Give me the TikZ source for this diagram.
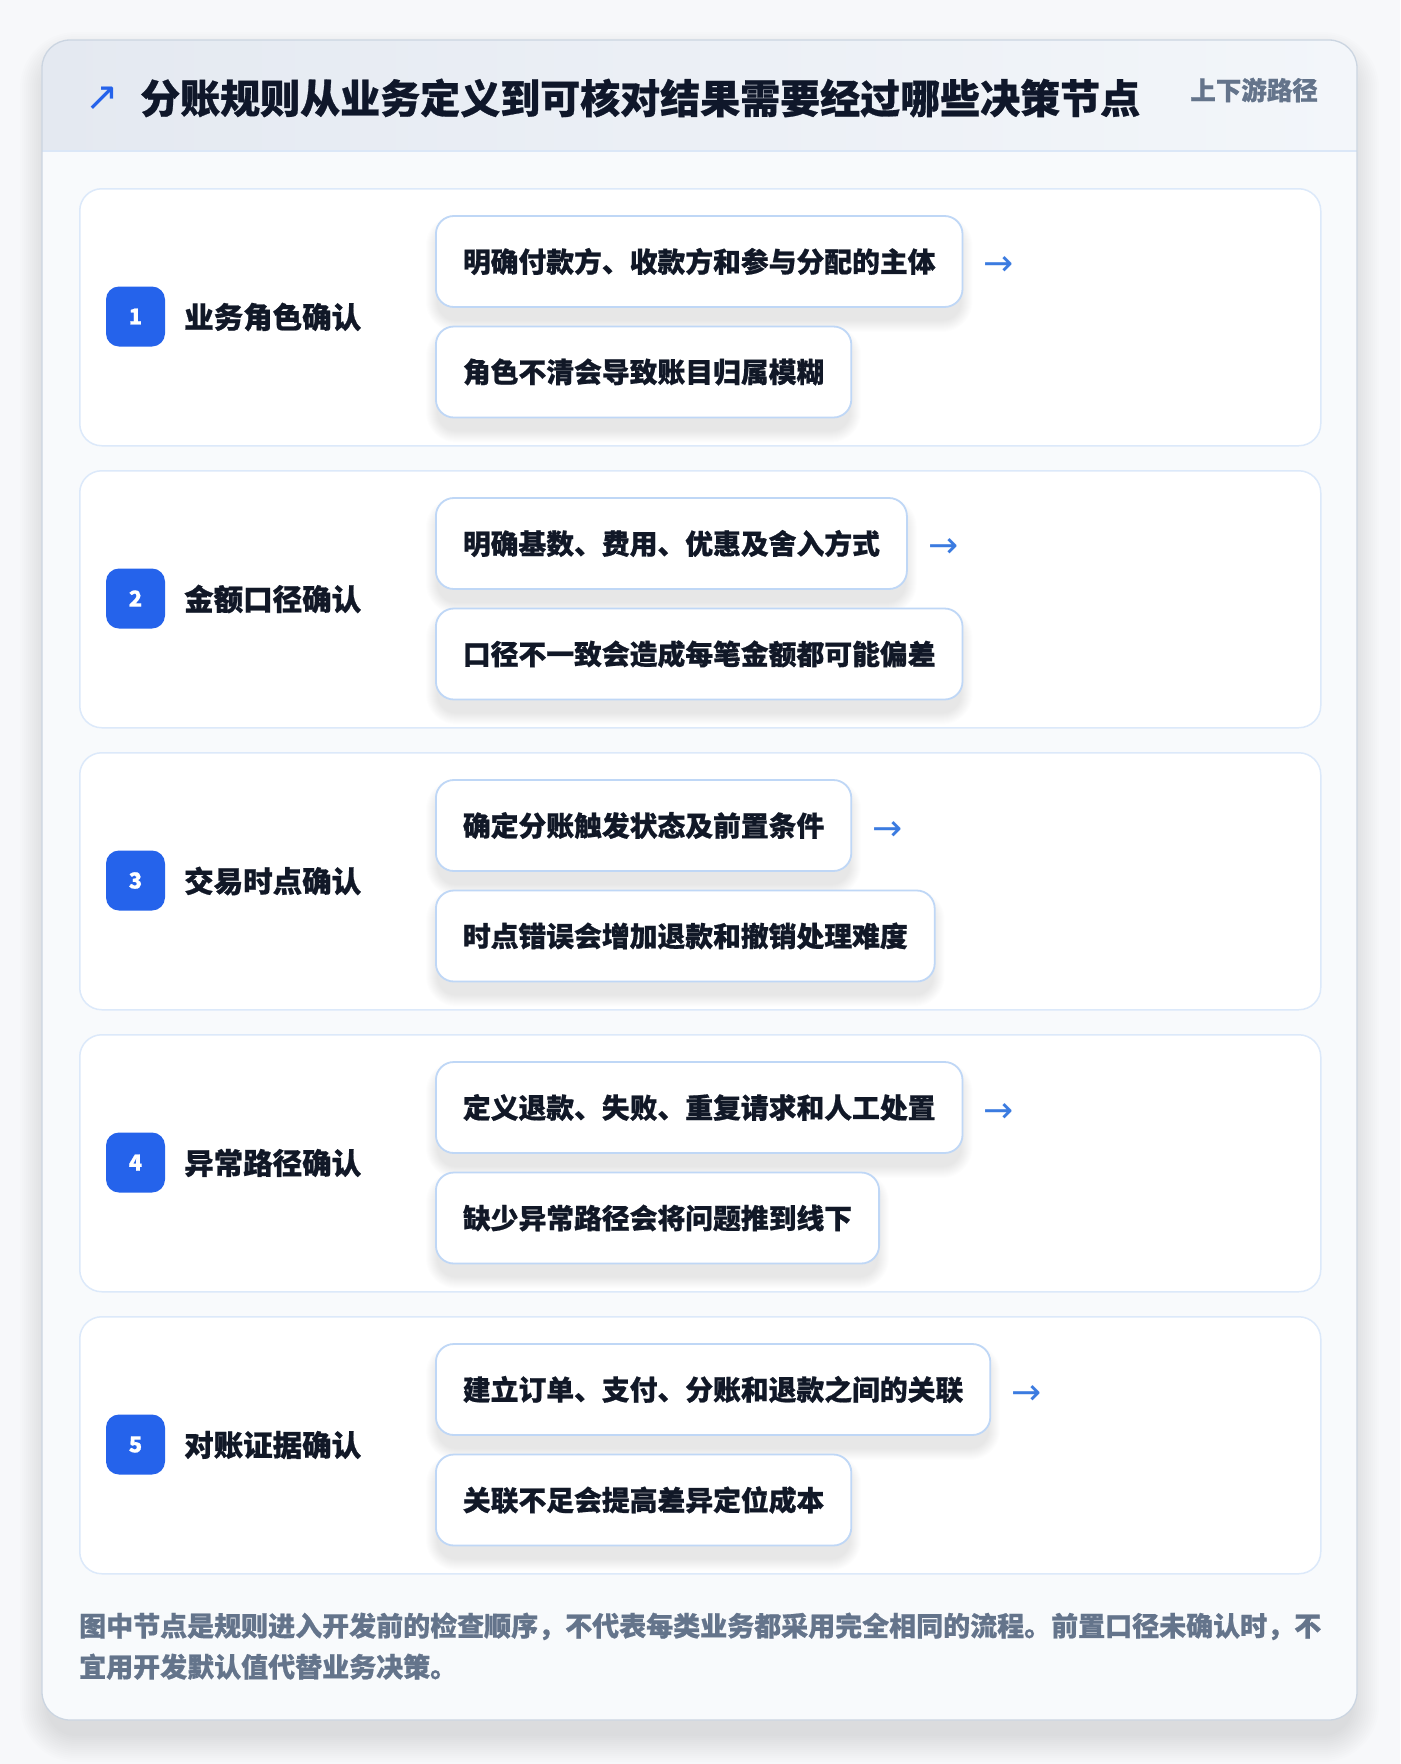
\documentclass[tikz,border=0pt]{standalone}
\usepackage{fontspec}
\setmainfont{Noto Sans CJK SC}[BoldFeatures={FakeBold=0.7}]
\newfontfamily\symfont{DejaVu Sans}
\definecolor{pagebg}{HTML}{F7F8FA}
\definecolor{cardbg}{HTML}{F8FAFC}
\definecolor{cardborder}{HTML}{CBD5E1}
\definecolor{hdrL}{HTML}{E4E9F1}
\definecolor{hdrR}{HTML}{F3F6FA}
\definecolor{sepcol}{HTML}{DBE7F7}
\definecolor{titlecol}{HTML}{0F172A}
\definecolor{mutedcol}{HTML}{64748B}
\definecolor{rowborder}{HTML}{DCE9FA}
\definecolor{boxborder}{HTML}{BFD7F6}
\definecolor{badgecol}{HTML}{2563EB}
\definecolor{arrowcol}{HTML}{3B7BE0}
\definecolor{textcol}{HTML}{111827}
\definecolor{shadowcol}{HTML}{1E293B}
\pgfdeclarelayer{cardlayer}
\pgfdeclarelayer{rowlayer}
\pgfdeclarelayer{shadowlayer}
\pgfsetlayers{cardlayer,rowlayer,shadowlayer,main}
\tikzset{
  rowcard/.style={draw=rowborder, fill=white, line width=1.5pt, rounded corners=22pt,
    minimum width=1241pt, minimum height=257pt, anchor=north west, inner sep=0pt},
  badgebox/.style={fill=badgecol, rounded corners=13pt, minimum width=59pt, minimum height=60pt,
    inner sep=0pt, text=white, font=\bfseries\fontsize{22}{26}\selectfont},
  labeltext/.style={anchor=west, text=textcol, inner sep=0pt, font=\bfseries\fontsize{29.5}{36}\selectfont},
  subbox/.style={draw=boxborder, fill=white, line width=1.8pt, rounded corners=18pt,
    minimum height=91pt, inner xsep=27pt, anchor=west, text=textcol,
    font=\bfseries\fontsize{27.8}{34}\selectfont},
  arrowtext/.style={anchor=west, text=arrowcol, inner sep=0pt, font=\symfont\fontsize{36}{40}\selectfont},
  foot/.style={anchor=base west, text=mutedcol, inner sep=0pt, font=\bfseries\fontsize{27}{41}\selectfont},
  shadowlay/.style={fill=shadowcol, opacity=0.008}
}
\newcommand{\boxshadow}[1]{%
  \begin{pgfonlayer}{shadowlayer}
  \foreach \k in {1,...,12}{
    \fill[shadowlay, rounded corners=18pt+\k pt]
      ([xshift=-\k pt+3pt, yshift=-12pt-\k pt]#1.south west) rectangle
      ([xshift=\k pt-3pt, yshift=-12pt+\k pt]#1.north east);
  }
  \end{pgfonlayer}}
\begin{document}
\begin{tikzpicture}[x=1pt,y=-1pt]
\useasboundingbox (0,0) rectangle (1400,1764);
\begin{pgfonlayer}{cardlayer}
\fill[pagebg] (0,0) rectangle (1400,1764);
\foreach \k in {1,...,14}{
  \fill[shadowcol, opacity=0.008, rounded corners=28pt+2*\k pt]
    (42-2*\k+6, 40-2*\k+20) rectangle (1357+2*\k-6, 1720+2*\k+14);
}
\fill[cardbg, rounded corners=28pt] (42,40) rectangle (1357,1720);
\begin{scope}
  \clip[rounded corners=28pt] (42,40) rectangle (1357,1720);
  \shade[left color=hdrL, right color=hdrR] (42,40) rectangle (1357,151);
\end{scope}
\draw[sepcol, line width=1.5pt] (42,151) -- (1357,151);
\draw[cardborder, line width=1.3pt, rounded corners=28pt] (42,40) rectangle (1357,1720);
\end{pgfonlayer}
% header
\node[anchor=center, text=badgecol, inner sep=0pt, font=\symfont\fontsize{40}{44}\selectfont] (icon) at (102,99) {↗};
\node[anchor=west, text=titlecol, inner sep=0pt, font=\bfseries\fontsize{40}{48}\selectfont] (title) at (140,98) {分账规则从业务定义到可核对结果需要经过哪些决策节点};
\node[anchor=east, text=mutedcol, inner sep=0pt, font=\bfseries\fontsize{25.5}{30}\selectfont] (tag) at (1318,90) {上下游路径};
% rows
\foreach \i/\lab/\a/\b in {
  1/业务角色确认/明确付款方、收款方和参与分配的主体/角色不清会导致账目归属模糊,
  2/金额口径确认/明确基数、费用、优惠及舍入方式/口径不一致会造成每笔金额都可能偏差,
  3/交易时点确认/确定分账触发状态及前置条件/时点错误会增加退款和撤销处理难度,
  4/异常路径确认/定义退款、失败、重复请求和人工处置/缺少异常路径会将问题推到线下,
  5/对账证据确认/建立订单、支付、分账和退款之间的关联/关联不足会提高差异定位成本}{
  \pgfmathsetmacro{\y}{188+282*(\i-1)}
  \begin{pgfonlayer}{rowlayer}
  \node[rowcard] (row\i) at (79,\y) {};
  \end{pgfonlayer}
  \node[badgebox] (badge\i) at (135.5,\y+128.5) {\i};
  \node[labeltext] (lab\i) at (184,\y+129) {\lab};
  \node[subbox] (s\i a) at (435,\y+73.5) {\a};
  \node[subbox] (s\i b) at (435,\y+184) {\b};
  \boxshadow{s\i a}
  \boxshadow{s\i b}
  \node[arrowtext] (arr\i) at ([xshift=20pt, yshift=-5pt]s\i a.east) {→};
}
% footer
\node[foot] (foot1) at (79,1636) {图中节点是规则进入开发前的检查顺序，不代表每类业务都采用完全相同的流程。前置口径未确认时，不};
\node[foot] (foot2) at (79,1677) {宜用开发默认值代替业务决策。};
\end{tikzpicture}
\end{document}
